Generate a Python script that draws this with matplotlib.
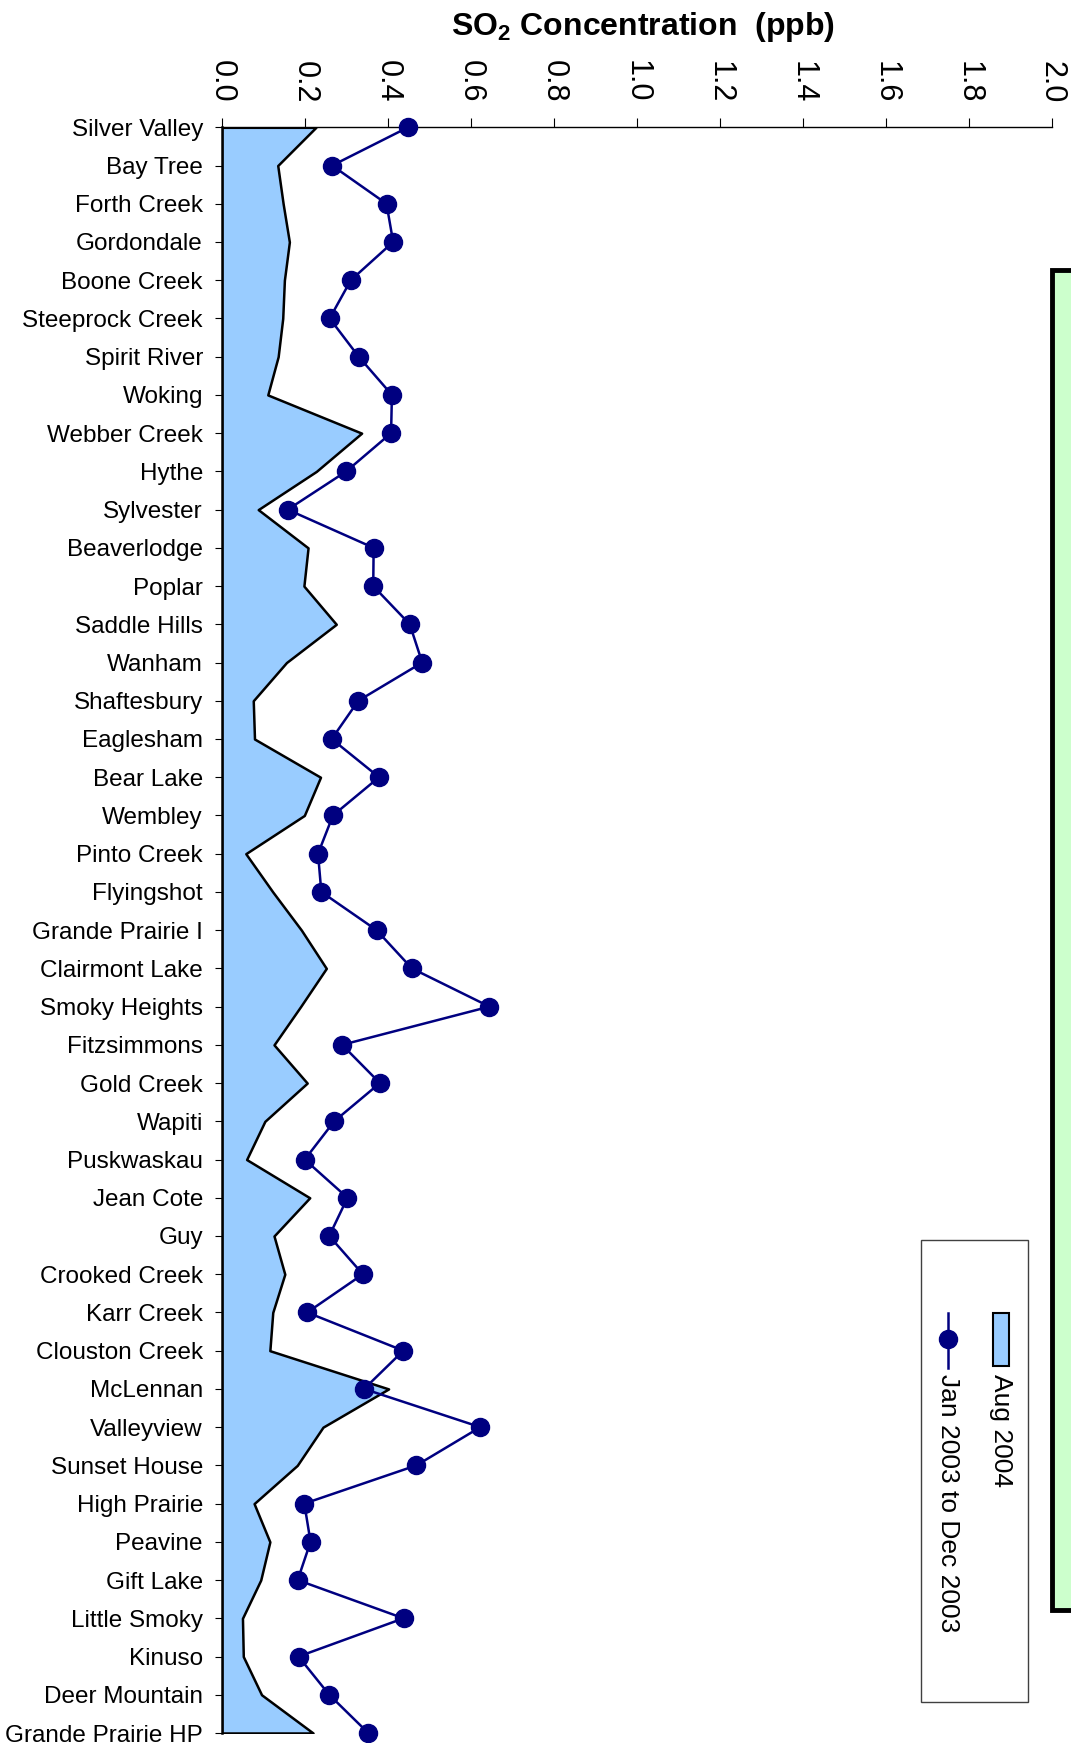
import matplotlib
matplotlib.use("Agg")
import matplotlib.pyplot as plt
from matplotlib.patches import Rectangle

plt.rcParams['font.family'] = ['Liberation Sans', 'DejaVu Sans']
plt.rcParams['mathtext.fontset'] = 'custom'
plt.rcParams['mathtext.rm'] = 'Liberation Sans'
plt.rcParams['mathtext.bf'] = 'Liberation Sans:bold'

# stations, top to bottom
stations = ["Silver Valley", "Bay Tree", "Forth Creek", "Gordondale", "Boone Creek",
            "Steeprock Creek", "Spirit River", "Woking", "Webber Creek", "Hythe",
            "Sylvester", "Beaverlodge", "Poplar", "Saddle Hills", "Wanham",
            "Shaftesbury", "Eaglesham", "Bear Lake", "Wembley", "Pinto Creek",
            "Flyingshot", "Grande Prairie I", "Clairmont Lake", "Smoky Heights",
            "Fitzsimmons", "Gold Creek", "Wapiti", "Puskwaskau", "Jean Cote", "Guy",
            "Crooked Creek", "Karr Creek", "Clouston Creek", "McLennan", "Valleyview",
            "Sunset House", "High Prairie", "Peavine", "Gift Lake", "Little Smoky",
            "Kinuso", "Deer Mountain", "Grande Prairie HP"]

# Aug 2004 (area)
aug_2004 = [0.227, 0.135, 0.148, 0.163, 0.151, 0.147, 0.136, 0.111, 0.337, 0.228,
            0.088, 0.208, 0.198, 0.276, 0.156, 0.076, 0.079, 0.238, 0.199, 0.058,
            0.123, 0.192, 0.252, 0.190, 0.126, 0.206, 0.104, 0.060, 0.212, 0.126,
            0.152, 0.123, 0.116, 0.402, 0.244, 0.182, 0.078, 0.116, 0.094, 0.050,
            0.052, 0.096, 0.220]

# Jan 2003 to Dec 2003 (line)
year_2003 = [0.449, 0.266, 0.397, 0.413, 0.311, 0.260, 0.330, 0.410, 0.408, 0.300,
             0.159, 0.366, 0.365, 0.453, 0.483, 0.329, 0.265, 0.379, 0.268, 0.232,
             0.240, 0.373, 0.458, 0.645, 0.290, 0.381, 0.271, 0.200, 0.303, 0.259,
             0.340, 0.206, 0.4375, 0.343, 0.623, 0.469, 0.199, 0.214, 0.183, 0.438,
             0.185, 0.259, 0.353]

xticks = [0.0, 0.2, 0.4, 0.6, 0.8, 1.0, 1.2, 1.4, 1.6, 1.8, 2.0]

area_color = '#99CCFF'
line_color = '#000080'

W, H = 1071, 1743
fig = plt.figure(figsize=(W / 100, H / 100), dpi=100)
ax = fig.add_axes([221.7 / W, 1 - 1733 / H, (1052 - 221.7) / W, (1733 - 127.3) / H])

pos = list(range(len(stations)))
ax.fill_betweenx(pos, 0, aug_2004, facecolor=area_color, edgecolor='black', lw=1.8, zorder=2)
ax.plot(year_2003, pos, color=line_color, lw=1.8, marker='o', ms=13,
        clip_on=False, zorder=3)

ax.set_ylim(len(stations) - 1, 0)
ax.set_xlim(0, 2.0)
ax.set_yticks(pos)
ax.set_yticklabels(stations, fontsize=17.5)
ax.xaxis.tick_top()
ax.set_xticks(xticks)
ax.set_xticklabels([f"{v:.1f}" for v in xticks], fontsize=22, rotation=-90)
ax.tick_params(axis='x', length=6.5, width=0.8, pad=11)
ax.tick_params(axis='y', length=5, width=0.8, pad=8.5)

ax.spines['right'].set_visible(False)
ax.spines['bottom'].set_visible(False)
ax.spines['top'].set_linewidth(1.0)
ax.spines['left'].set_linewidth(1.8)
ax.spines['left'].set_zorder(4)

fig.text(643 / W, 1 - 27 / H, r'SO$_\mathbf{2}$ Concentration  (ppb)',
         fontsize=23, fontweight='bold', ha='center', va='center')

# overlay in pixel coordinates for legend and side box
ov = fig.add_axes([0, 0, 1, 1])
ov.set_xlim(0, W)
ov.set_ylim(H, 0)
ov.axis('off')

ov.add_patch(Rectangle((1052, 270), 40, 1340, facecolor='#CCFFCC',
                       edgecolor='black', lw=3.5, clip_on=False))

ov.add_patch(Rectangle((921, 1240), 107, 462, facecolor='white',
                       edgecolor='#404040', lw=1))
ov.add_patch(Rectangle((993, 1313), 16, 53, facecolor=area_color,
                       edgecolor='black', lw=1.5))
ov.text(1001, 1374, "Aug 2004", rotation=-90, ha='center', va='top', fontsize=19)
ov.plot([948, 948], [1313, 1368], color=line_color, lw=1.8)
ov.plot([948], [1339], color=line_color, marker='o', ms=13)
ov.text(948, 1374, "Jan 2003 to Dec 2003", rotation=-90, ha='center', va='top', fontsize=19)

fig.savefig("out.png", dpi=100)
